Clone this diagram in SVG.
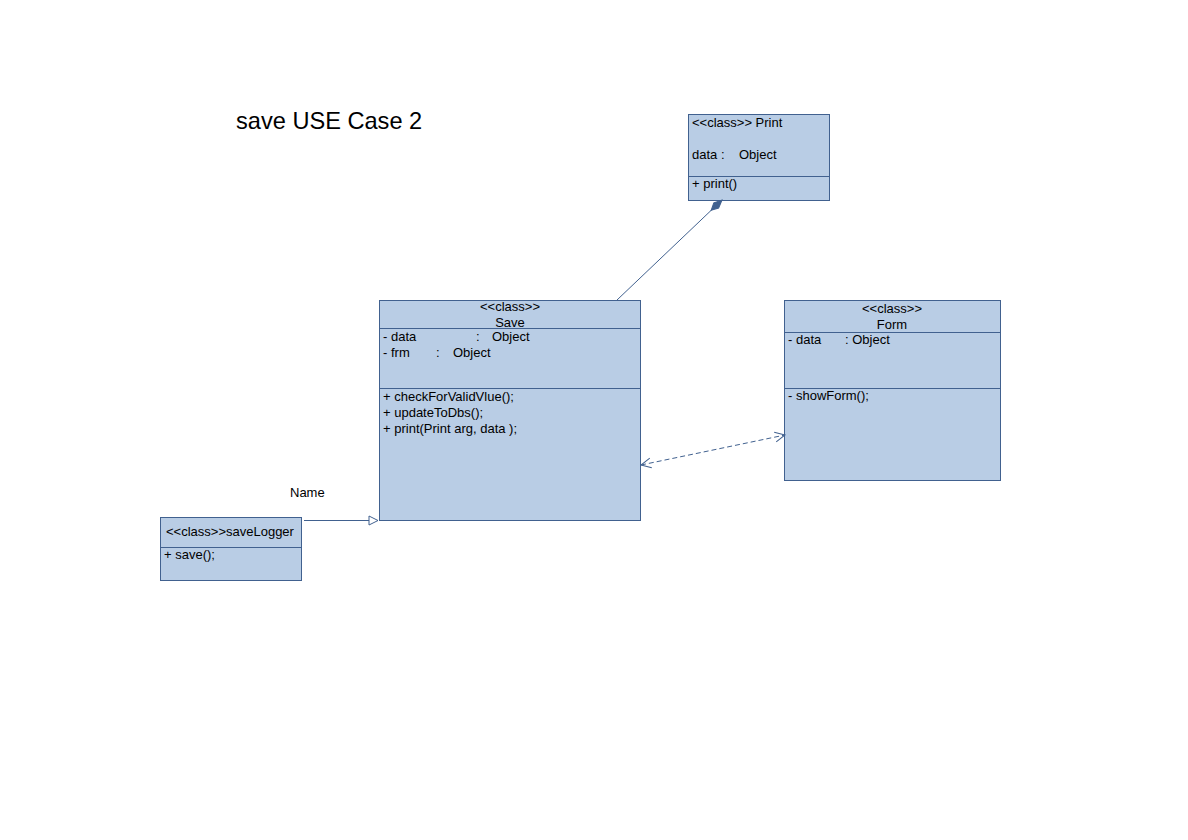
<svg xmlns="http://www.w3.org/2000/svg" width="1188" height="840" viewBox="0 0 1188 840">
<style>
.box{fill:#b9cde5;stroke:#41618f;stroke-width:1}
.sep{stroke:#41618f;stroke-width:1}
.t{font-family:"Liberation Sans",Arial,sans-serif;font-size:13px;fill:#000}
.c{text-anchor:middle}
.conn{stroke:#41618f;stroke-width:1;fill:none}
</style>
<defs>
<marker id="open" markerWidth="12" markerHeight="12" refX="11" refY="6" orient="auto-start-reverse" markerUnits="userSpaceOnUse">
<path d="M1,1 L11,6 L1,11" fill="none" stroke="#41618f" stroke-width="1"/>
</marker>
<marker id="tri" markerWidth="12" markerHeight="12" refX="10" refY="6" orient="auto" markerUnits="userSpaceOnUse">
<path d="M1,1.5 L10,6 L1,10.5 Z" fill="#fff" stroke="#41618f" stroke-width="1"/>
</marker>
<marker id="dia" markerWidth="18" markerHeight="10" refX="16" refY="5" orient="auto" markerUnits="userSpaceOnUse">
<path d="M1,5 L8,1.5 L16,5 L8,8.5 Z" fill="#41618f" stroke="#41618f" stroke-width="1"/>
</marker>
</defs>
<rect width="1188" height="840" fill="#fff"/>
<text x="236" y="129" font-family="Liberation Sans,Arial,sans-serif" font-size="23.6" fill="#000">save USE Case 2</text>

<g id="print">
<rect class="box" x="688.5" y="114.5" width="141" height="86"/>
<line class="sep" x1="688.5" y1="176.5" x2="829.5" y2="176.5"/>
<text class="t" x="692" y="127">&lt;&lt;class&gt;&gt; Print</text>
<text class="t" x="692" y="159" xml:space="preserve">data :    Object</text>
<text class="t" x="692" y="188">+ print()</text>
</g>

<g id="save">
<rect class="box" x="379.5" y="300.5" width="261" height="220"/>
<line class="sep" x1="379.5" y1="328.5" x2="640.5" y2="328.5"/>
<line class="sep" x1="379.5" y1="388.5" x2="640.5" y2="388.5"/>
<text class="t c" x="510" y="311">&lt;&lt;class&gt;&gt;</text>
<text class="t c" x="510" y="327">Save</text>
<text class="t" x="383" y="341">- data</text>
<text class="t" x="476" y="341">:</text>
<text class="t" x="492" y="341">Object</text>
<text class="t" x="383" y="357">- frm</text>
<text class="t" x="436" y="357">:</text>
<text class="t" x="453" y="357">Object</text>
<text class="t" x="383" y="401">+ checkForValidVlue();</text>
<text class="t" x="383" y="417">+ updateToDbs();</text>
<text class="t" x="383" y="433">+ print(Print arg, data );</text>
</g>

<g id="form">
<rect class="box" x="784.5" y="300.5" width="216" height="180"/>
<line class="sep" x1="784.5" y1="332.5" x2="1000.5" y2="332.5"/>
<line class="sep" x1="784.5" y1="388.5" x2="1000.5" y2="388.5"/>
<text class="t c" x="892" y="313">&lt;&lt;class&gt;&gt;</text>
<text class="t c" x="892" y="329">Form</text>
<text class="t" x="788" y="344">- data</text>
<text class="t" x="845" y="344">: Object</text>
<text class="t" x="788" y="400">- showForm();</text>
</g>

<g id="saveLogger">
<rect class="box" x="160.5" y="517.5" width="141" height="63"/>
<line class="sep" x1="160.5" y1="547.5" x2="301.5" y2="547.5"/>
<text class="t" x="166" y="536">&lt;&lt;class&gt;&gt;saveLogger</text>
<text class="t" x="164" y="559">+ save();</text>
</g>

<g id="connectors">
<line class="conn" x1="617" y1="300" x2="722" y2="200" marker-end="url(#dia)"/>
<line class="conn" x1="641" y1="465" x2="785" y2="435" stroke-dasharray="5,3" marker-start="url(#open)" marker-end="url(#open)"/>
<line class="conn" x1="304" y1="520.5" x2="378" y2="520.5" marker-end="url(#tri)"/>
<text class="t" x="290" y="497">Name</text>
</g>
</svg>
